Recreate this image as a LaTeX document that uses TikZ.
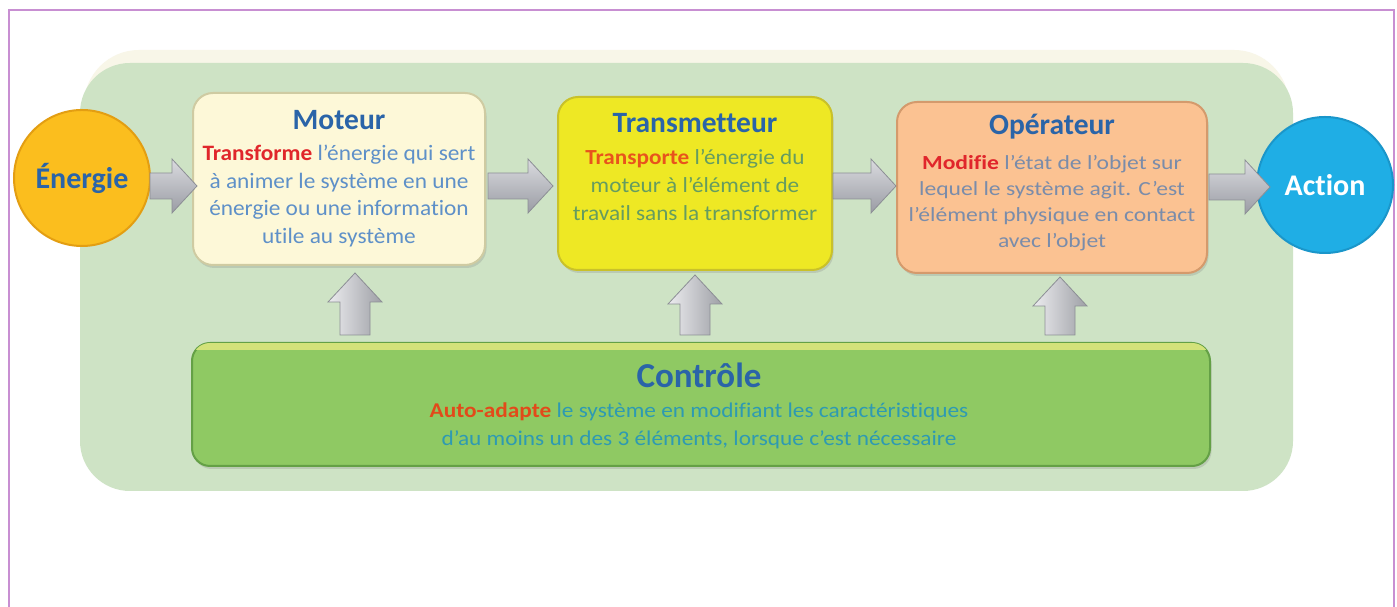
\documentclass[tikz,border=0pt]{standalone}
\usepackage{fontspec}
\setmainfont{Carlito}[Ligatures={TeX,NoCommon}]
\usetikzlibrary{calc,shadows}
\definecolor{framec}{HTML}{C88FD2}
\definecolor{bgc}{HTML}{CEE3C5}
\definecolor{bgcream}{HTML}{F8F6E8}
\definecolor{titleblue}{HTML}{2A64A8}
\definecolor{energf}{HTML}{FBBE1E}
\definecolor{energd}{HTML}{E39E12}
\definecolor{actf}{HTML}{1FAEE5}
\definecolor{actd}{HTML}{1A96CA}
\definecolor{motf}{HTML}{FDF8D8}
\definecolor{motd}{HTML}{CFCBA2}
\definecolor{motb}{HTML}{5E90C8}
\definecolor{trf}{HTML}{EEE824}
\definecolor{trd}{HTML}{C9C12A}
\definecolor{trb}{HTML}{659C60}
\definecolor{opf}{HTML}{FBC292}
\definecolor{opd}{HTML}{D49A6C}
\definecolor{opb}{HTML}{7A8CAA}
\definecolor{ctf}{HTML}{8FC963}
\definecolor{ctd}{HTML}{64A046}
\definecolor{cthi}{HTML}{D3E27A}
\definecolor{ctb}{HTML}{2E9AB2}
\definecolor{redA}{HTML}{E0262B}
\definecolor{redB}{HTML}{E8541C}
\definecolor{redC}{HTML}{E24A1A}
\definecolor{arrtop}{HTML}{DADBDF}
\definecolor{arrmid}{HTML}{C4C6CB}
\definecolor{arrbot}{HTML}{9A9CA4}
\definecolor{arrdraw}{HTML}{8C8E95}
\definecolor{arrleft}{HTML}{ECECEF}
\definecolor{arrright}{HTML}{9EA0A6}
\tikzset{
  boxsty/.style={rectangle, rounded corners=20pt, inner sep=0pt, outer sep=0pt, line width=2pt,
    drop shadow={shadow xshift=1.5pt, shadow yshift=-3pt, opacity=0.25}},
  ttl/.style={anchor=base, inner sep=0pt, text=titleblue, font=\bfseries\fontsize{29.5}{34}\selectfont},
  harrowsty/.style={top color=arrtop, middle color=arrmid, bottom color=arrbot, draw=arrdraw, line width=0.8pt},
  varrowsty/.style={left color=arrleft, middle color=arrtop, right color=arrright, draw=arrdraw, line width=0.8pt},
  bodyline/.style={anchor=base, inner sep=0pt}
}
\newcommand{\myharrow}[5]{%
  \path[harrowsty] let \p1=(#1), \p2=(#2) in
   (\x1+#4,#3+13pt) -- (\x2+#5-25pt,#3+13pt) -- (\x2+#5-25pt,#3+27pt) -- (\x2+#5,#3)
   -- (\x2+#5-25pt,#3-27pt) -- (\x2+#5-25pt,#3-13pt) -- (\x1+#4,#3-13pt) -- cycle;}
\newcommand{\myvarrow}[3]{%
  \path[varrowsty] let \p1=($(#1.south)+(#2,0)$), \p2=(ctrl.north) in
   (\x1-15pt,\y2+8pt) -- (\x1-15pt,\y1-#3-29pt) -- (\x1-27pt,\y1-#3-29pt) -- (\x1,\y1-#3)
   -- (\x1+27pt,\y1-#3-29pt) -- (\x1+15pt,\y1-#3-29pt) -- (\x1+15pt,\y2+8pt) -- cycle;}
\begin{document}
\begin{tikzpicture}[x=1pt,y=1pt]
\useasboundingbox (0,0) rectangle (1397,607);
\fill[white] (0,0) rectangle (1397,607);
% frame
\draw[framec, line width=1.5pt] (9,-2) -- (9,597) -- (1394,597) -- (1394,-2);
% background panel
\fill[bgcream, rounded corners=55pt] (84,380) rectangle (1289,557);
\node[rectangle, rounded corners=50pt, fill=bgc, inner sep=0pt, minimum width=1213pt, minimum height=428pt] (bg) at (686.5,330) {};

% circles
\node[circle, minimum size=136pt, inner sep=0pt, fill=energf, draw=energd, line width=2pt,
  text=titleblue, font=\bfseries\fontsize{30}{34}\selectfont] (en) at (82,429) {Énergie};

% boxes
\node[boxsty, fill=motf, draw=motd, minimum width=292pt, minimum height=172pt] (mot) at (339,428) {};
\node[boxsty, fill=trf, draw=trd, minimum width=274pt, minimum height=173pt] (tr) at (695,423.5) {};
\node[boxsty, fill=opf, draw=opd, minimum width=310pt, minimum height=171pt] (op) at (1052,419.5) {};
\node[boxsty, rounded corners=18pt, fill=ctf, draw=ctd, minimum width=1018pt, minimum height=123pt] (ctrl) at (701,202.5) {};
\begin{scope}
  \clip[rounded corners=18pt] (ctrl.south west) rectangle (ctrl.north east);
  \fill[cthi] ($(ctrl.north west)+(0,-7)$) rectangle (ctrl.north east);
\end{scope}

\node[circle, minimum size=136pt, inner sep=0pt, fill=actf, draw=actd, line width=2pt,
  text=white, font=\bfseries\fontsize{30}{34}\selectfont] (act) at (1325,422) {Action};

% Moteur text
\node[ttl] (motT) at (339,477) {Moteur};
\begin{scope}[every node/.style={bodyline, text=motb, xscale=1.06, font=\fontsize{22}{27}\selectfont}]
\node (mot1) at (339,446) {\textcolor{redA}{\textbf{Transforme}} l'énergie qui sert};
\node (mot2) at (339,418.5) {à animer le système en une};
\node (mot3) at (339,391) {énergie ou une information};
\node (mot4) at (339,363.5) {utile au système};
\end{scope}

% Transmetteur text
\node[ttl] (trT) at (695,474) {Transmetteur};
\begin{scope}[every node/.style={bodyline, text=trb, xscale=1.08, font=\fontsize{21.5}{27}\selectfont}]
\node (tr1) at (695,442) {\textcolor{redB}{\textbf{Transporte}} l'énergie du};
\node (tr2) at (695,414) {moteur à l'élément de};
\node (tr3) at (695,386) {travail sans la transformer};
\end{scope}

% Operateur text
\node[ttl] (opT) at (1052,472) {Opérateur};
\begin{scope}[every node/.style={bodyline, text=opb, xscale=1.18, font=\fontsize{20}{25}\selectfont}]
\node (op1) at (1052,437) {\textcolor{redA}{\textbf{Modifie}} l'état de l'objet sur};
\node (op2) at (1052,411) {lequel le système agit. C'est};
\node (op3) at (1052,385) {l'élément physique en contact};
\node (op4) at (1052,359) {avec l'objet};
\end{scope}

% Controle text
\node[ttl, font=\bfseries\fontsize{35}{40}\selectfont] (ctT) at (699,219) {Contrôle};
\begin{scope}[every node/.style={bodyline, text=ctb, xscale=1.11, font=\fontsize{21}{27}\selectfont}]
\node (ct1) at (699,189) {\textcolor{redC}{\textbf{Auto-adapte}} le système en modifiant les caractéristiques};
\node (ct2) at (699,161) {d'au moins un des 3 éléments, lorsque c'est nécessaire};
\end{scope}

% horizontal arrows
\myharrow{en.east}{mot.west}{421pt}{-1pt}{4pt}
\myharrow{mot.east}{tr.west}{421pt}{3pt}{-5pt}
\myharrow{tr.east}{op.west}{421pt}{1pt}{-1pt}
\myharrow{op.east}{act.west}{420pt}{2pt}{14pt}

% vertical arrows
\myvarrow{mot}{16pt}{8pt}
\myvarrow{tr}{0pt}{5pt}
\myvarrow{op}{8pt}{4pt}
\end{tikzpicture}
\end{document}
